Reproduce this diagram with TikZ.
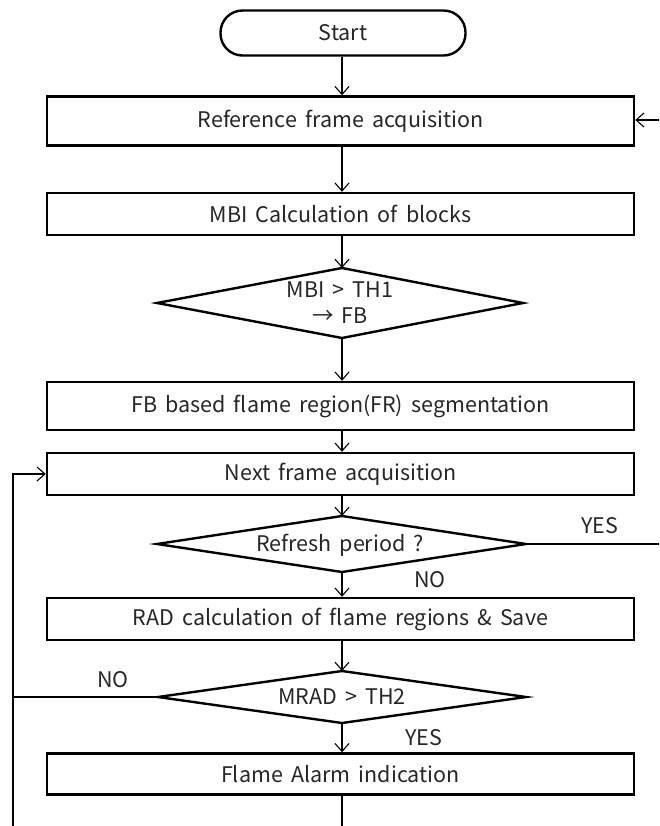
\documentclass[tikz,border=0pt]{standalone}
\usepackage{fontspec}
\setmainfont[WordSpace=1.7]{Noto Sans CJK KR}
\usetikzlibrary{shapes.geometric,arrows.meta}
\begin{document}
\begin{tikzpicture}[x=1pt,y=-1pt,
  every node/.style={font=\fontsize{21.5}{24}\selectfont, text=black!85},
  procbox/.style={draw, line width=2.4pt, minimum width=587pt, inner sep=0pt},
  conn/.style={line width=1.1pt},
  arr/.style={conn, -{Straight Barb[length=8pt,width=14pt,line width=1.1pt]}},
  lbl/.style={font=\fontsize{21.5}{24}\selectfont}]
\useasboundingbox (0,0) rectangle (659,826);
\node[draw, line width=2.4pt, rounded corners=22pt, minimum width=245pt, minimum height=45pt] (start) at (343,33) {Start};
\node[procbox, minimum height=49pt] (b1) at (340.5,121) {Reference frame acquisition};
\node[procbox, minimum height=42pt] (b2) at (340.5,214) {MBI Calculation of blocks};
\path[draw, line width=2.4pt] (157,303) coordinate (d1l) -- (342,268) coordinate (d1t) -- (523,303) coordinate (d1r) -- (342,338) coordinate (d1b) -- cycle;
\node[align=center, font=\fontsize{21.5}{26}\selectfont] (d1) at (340,303) {MBI > TH1\\ → FB};
\node[procbox, minimum height=48pt] (b3) at (340.5,406) {FB based flame region(FR) segmentation};
\node[procbox, minimum height=42pt] (b4) at (340.5,474) {Next frame acquisition};
\path[draw, line width=2.4pt] (157,544) coordinate (d2l) -- (342,516) coordinate (d2t) -- (526,544) coordinate (d2r) -- (342,572) coordinate (d2b) -- cycle;
\node (d2) at (340,545) {Refresh period ?};
\node[procbox, minimum height=42pt] (b5) at (340.5,619) {RAD calculation of flame regions \& Save};
\path[draw, line width=2.4pt] (158,697) coordinate (d3l) -- (342,671) coordinate (d3t) -- (526,697) coordinate (d3r) -- (342,723) coordinate (d3b) -- cycle;
\node (d3) at (342,697) {MRAD > TH2};
\node[procbox, minimum height=41pt] (b6) at (340.5,774) {Flame Alarm indication};
\coordinate (rin) at (659,120);
\coordinate (rout) at (659,544);
\coordinate (lbot) at (13,826);
\coordinate (lcorner) at (13,474);
\coordinate (lno) at (13,697);
\coordinate (bend) at (342,826);
\draw[arr] (start.south -| 342,0) -- (b1.north -| 342,0);
\draw[arr] (rin) -- (b1.east |- rin);
\draw[arr] (b1.south -| 342,0) -- (b2.north -| 342,0);
\draw[arr] (b2.south -| 342,0) -- (d1t);
\draw[arr] (d1b) -- (b3.north -| 342,0);
\draw[arr] (b3.south -| 342,0) -- (b4.north -| 342,0);
\draw[arr] (b4.south -| 342,0) -- (d2t);
\draw[conn] (d2r) -- (rout);
\draw[arr] (d2b) -- (b5.north -| 342,0);
\draw[arr] (b5.south -| 342,0) -- (d3t);
\draw[arr] (d3b) -- (b6.north -| 342,0);
\draw[conn] (b6.south -| 342,0) -- (bend);
\draw[conn] (d3l) -- (lno);
\draw[arr] (lbot) -- (lcorner) -- (b4.west |- lcorner);
\node[lbl] at (600,526) {YES};
\node[lbl] at (430,580) {NO};
\node[lbl] at (113,680) {NO};
\node[lbl] at (424,738) {YES};
\end{tikzpicture}
\end{document}
